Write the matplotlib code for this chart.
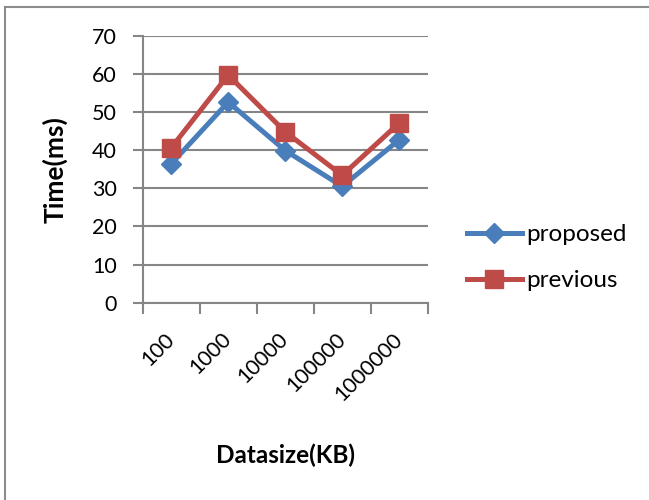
import matplotlib
matplotlib.use("Agg")
import matplotlib.pyplot as plt
from matplotlib.lines import Line2D
import numpy as np

categories = ["100", "1000", "10000", "100000", "1000000"]
proposed = [36.4, 52.6, 39.9, 30.5, 42.7]
previous = [40.6, 59.7, 44.8, 33.4, 47.1]
yticks = [0, 10, 20, 30, 40, 50, 60, 70]

W, H = 649, 500
fig = plt.figure(figsize=(W / 100, H / 100), dpi=100)
plt.rcParams['font.family'] = ['Lato', 'DejaVu Sans']

L, R, T, B = 142.7, 427.7, 35.7, 302.7
ax = fig.add_axes([L / W, 1 - B / H, (R - L) / W, (B - T) / H])

x = np.arange(len(categories))
blue = "#4A7EBB"
red = "#BE4B48"
ax.plot(x, proposed, color=blue, lw=3.6, marker="D", ms=10, mfc=blue, mec=blue, label="proposed", zorder=3)
ax.plot(x, previous, color=red, lw=3.6, marker="s", ms=13, mfc=red, mec=red, label="previous", zorder=4)

ax.set_xlim(-0.5, len(categories) - 0.5)
ax.set_ylim(0, 70)
ax.set_yticks(yticks)
ax.set_yticklabels([str(v) for v in yticks], fontsize=15.5)
ax.yaxis.grid(True, color="#868686", lw=1.5)
ax.set_axisbelow(True)

grid_col = "#868686"
for s in ["top", "right"]:
    ax.spines[s].set_visible(False)
for s in ["left", "bottom"]:
    ax.spines[s].set_color(grid_col)
    ax.spines[s].set_linewidth(1.5)
ax.tick_params(axis="y", length=7, width=1.5, color=grid_col, pad=11.5)

ax.set_xticks(x)
ax.set_xticklabels(categories, rotation=45, ha="right", va="center", rotation_mode="anchor", fontsize=15.5)
ax.tick_params(axis="x", which="major", length=0, pad=24)
ax.set_xticks(np.arange(len(categories) + 1) - 0.5, minor=True)
ax.tick_params(axis="x", which="minor", length=8, width=1.5, color=grid_col, direction="out")

fig.text(55 / W, 1 - 170 / H, "Time(ms)", rotation=90, fontsize=19, fontweight="bold", ha="center", va="center")
fig.text(286 / W, 1 - 455 / H, "Datasize(KB)", fontsize=17.5, fontweight="bold", ha="center", va="center")

leg = ax.legend(loc="upper left", bbox_to_anchor=(467 / W, 1 - 224 / H), bbox_transform=fig.transFigure,
                frameon=False, fontsize=17.5, handlelength=2.25, handletextpad=0.2, labelspacing=1.03,
                borderpad=0, borderaxespad=0)

fig.add_artist(Line2D([4.5 / W, 4.5 / W], [1 - 7 / H, 0], color="#8c8c8c", lw=1.5, transform=fig.transFigure))
fig.add_artist(Line2D([4.5 / W, 1], [1 - 7 / H, 1 - 7 / H], color="#8c8c8c", lw=1.5, transform=fig.transFigure))

fig.savefig("out.png", dpi=100)
